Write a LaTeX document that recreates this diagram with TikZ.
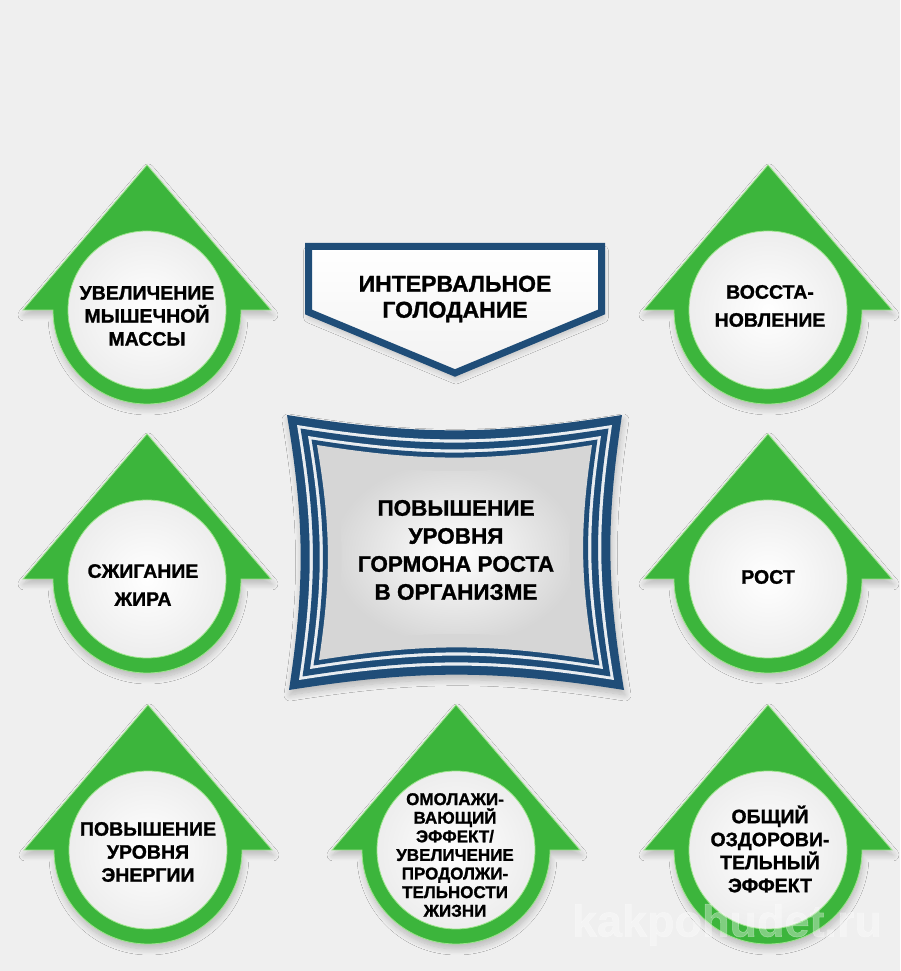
\documentclass[tikz,border=0pt]{standalone}
\usepackage{fontspec}
\setmainfont{Liberation Sans}[BoldFeatures={FakeBold=1.2}]
\usetikzlibrary{shadows, shadows.blur, calc}
\definecolor{arrowgreen}{HTML}{3CB53C}
\definecolor{arrowedge}{HTML}{9BE58A}
\definecolor{frameblue}{HTML}{1F4D78}
\definecolor{framelight}{HTML}{E9EDF1}
\definecolor{innergray}{HTML}{D6D6D6}
\definecolor{bggray}{HTML}{EFEFEF}

\tikzset{
  softshadow/.style={blur shadow={shadow blur steps=10, shadow xshift=1pt, shadow yshift=-5pt,
    shadow blur radius=6pt, shadow opacity=22}},
  pics/growarrow/.style={code={
    \path[fill=arrowgreen, draw=arrowedge, line width=0.8pt, softshadow]
      (0,145) -- (124,0) -- (94,0) arc[start angle=0, end angle=-180, radius=94] -- (-124,0) -- cycle;
    \shadedraw[inner color=white, outer color=gray!14, draw=arrowedge, line width=0.8pt] (0,0) circle (79);
  }}
}

\begin{document}
\begin{tikzpicture}[x=1pt, y=1pt,
  arrowtext/.style={align=center, font=\bfseries\fontsize{19.5}{23}\selectfont, text=black},
  boxtext/.style={align=center, font=\bfseries\fontsize{22.5}{28}\selectfont, text=black}
]
  \fill[bggray] (0,0) rectangle (900,971);
  \useasboundingbox (0,0) rectangle (900,971);

  % Arrows
  \pic at (147,661) {growarrow};
  \pic at (768,661) {growarrow};
  \pic at (147,392) {growarrow};
  \pic at (768,392) {growarrow};
  \pic at (148,121) {growarrow};
  \pic at (456,121) {growarrow};
  \pic at (768,121) {growarrow};

  % Arrow texts
  \node[arrowtext] (muscle) at (147,655) {УВЕЛИЧЕНИЕ\\МЫШЕЧНОЙ\\МАССЫ};
  \node[arrowtext, font=\bfseries\fontsize{19.5}{28}\selectfont] (recovery) at (770,665) {ВОССТА-\\НОВЛЕНИЕ};
  \node[arrowtext, font=\bfseries\fontsize{19.5}{28}\selectfont] (fat) at (143,386) {СЖИГАНИЕ\\ЖИРА};
  \node[arrowtext] (growth) at (768,394) {РОСТ};
  \node[arrowtext] (energy) at (148,119) {ПОВЫШЕНИЕ\\УРОВНЯ\\ЭНЕРГИИ};
  \node[arrowtext, font=\bfseries\fontsize{17}{18.6}\selectfont] (rejuv) at (455,116)
    {ОМОЛАЖИ-\\ВАЮЩИЙ\\ЭФФЕКТ/\\УВЕЛИЧЕНИЕ\\ПРОДОЛЖИ-\\ТЕЛЬНОСТИ\\ЖИЗНИ};
  \node[arrowtext] (health) at (770,122) {ОБЩИЙ\\ОЗДОРОВИ-\\ТЕЛЬНЫЙ\\ЭФФЕКТ};

  % Fasting banner
  \path[draw=frameblue, line width=7pt, top color=white, bottom color=gray!10, softshadow]
    (308.5,724.5) -- (601.5,724.5) -- (601.5,659) -- (455,598) -- (308.5,659) -- cycle;
  \node[boxtext, font=\bfseries\fontsize{23}{26}\selectfont] (fasting) at (455,672) {ИНТЕРВАЛЬНОЕ\\ГОЛОДАНИЕ};

  % Hormone frame
  \coordinate (wtl) at (287,556);
  \coordinate (wtr) at (622,556);
  \coordinate (wbr) at (624,281);
  \coordinate (wbl) at (289,281);
  \fill[frameblue, softshadow]
    (wtl) to[bend right=9] (wtr) to[bend right=9] (wbr) to[bend right=9] (wbl) to[bend right=9] cycle;
  \foreach \d/\c in {10/framelight, 13.5/frameblue, 21/framelight, 24.5/frameblue, 30/innergray}
    \fill[\c] ($(wtl)+(\d,-\d)$) to[bend right=9] ($(wtr)+(-\d,-\d)$)
      to[bend right=9] ($(wbr)+(-\d,\d)$) to[bend right=9] ($(wbl)+(\d,\d)$) to[bend right=9] cycle;
  \shade[inner color=white, outer color=innergray]
    ($(wtl)+(45,-45)$) to[bend right=9] ($(wtr)+(-45,-45)$)
      to[bend right=9] ($(wbr)+(-45,45)$) to[bend right=9] ($(wbl)+(45,45)$) to[bend right=9] cycle;
  \node[boxtext] (hormone) at (456,421) {ПОВЫШЕНИЕ\\УРОВНЯ\\ГОРМОНА РОСТА\\В ОРГАНИЗМЕ};

  % Watermark
  \node[font=\bfseries\fontsize{45}{45}\selectfont, text=white, opacity=0.35] (mark) at (727,46) {kakpohudet.ru};
\end{tikzpicture}
\end{document}
